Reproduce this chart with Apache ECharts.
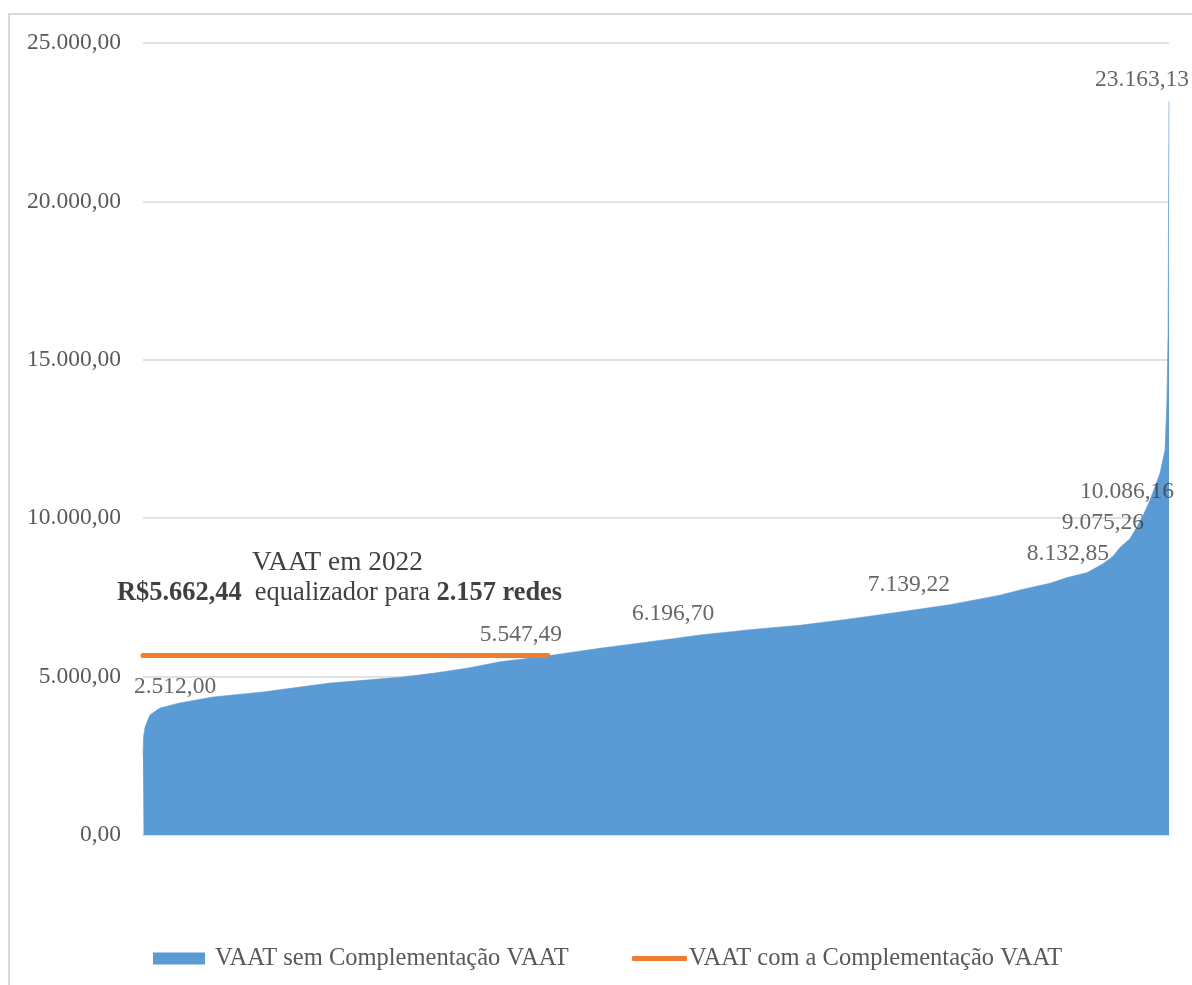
<!DOCTYPE html>
<html>
<head>
<meta charset="utf-8">
<script src="https://cdn.jsdelivr.net/npm/echarts@6/dist/echarts.min.js"></script>
<style>
  html, body { margin: 0; padding: 0; background: #fff; }
  #chart { width: 1192px; height: 985px; }
</style>
</head>
<body>
<div id="chart"></div>
<script>
// redes ordenadas pelo VAAT (posição no ranking)
const ranks = [1, 4, 12, 38, 92, 198, 374, 640, 997, 1370, 1545, 1726, 1904, 2014, 2158,
  2435, 2824, 2968, 3234, 3500, 3766, 4032, 4299, 4565, 4672, 4831, 4927, 5028, 5114,
  5167, 5204, 5257, 5295, 5327, 5364, 5417, 5444, 5454, 5460, 5465]
// VAAT sem complementação
const vaatSem = [2512.00, 3093, 3409, 3788, 4010, 4170, 4356, 4514, 4795, 4978, 5104, 5262, 5470, 5547.49, 5655,
  5893, 6196.70, 6313, 6480, 6620, 6820, 7040, 7270, 7570, 7734, 7945, 8132.85, 8280, 8560,
  8800, 9075.26, 9350, 9732, 10086.16, 10574, 11417, 12153, 13731, 15846, 23163.13]
// VAAT com a complementação (redes equalizadas)
const redesEqualizadas = 2157
const vaatCom = 5662.44
// pontos com rótulo
const labelRanks = [1, 2014, 2824, 4080, 4927, 5204, 5327, 5465]
const labelValues = [2512.00, 5547.49, 6196.70, 7139.22, 8132.85, 9075.26, 10086.16, 23163.13]
const labelShift = [[32, -69], [0, -24], [0, -25], [0, -24], [0, -24], [-17, -25], [-16, -24], [-27, -21]]

const nomeSem = 'VAAT sem Complementação VAAT'
const nomeCom = 'VAAT com a Complementação VAAT'
const FONT = '"Liberation Serif", "Times New Roman", serif'

function fmtBR(v) {
  const parts = v.toFixed(2).split('.')
  parts[0] = parts[0].replace(/\B(?=(\d{3})+(?!\d))/g, '.')
  return parts.join(',')
}

const chart = echarts.init(document.getElementById('chart'))
const option = {
  animation: false,
  textStyle: { fontFamily: FONT },
  grid: { left: 143, right: 23, top: 43, bottom: 150 },
  legend: [
    {
      data: [nomeSem],
      left: 148, top: 941,
      icon: 'rect',
      itemWidth: 52, itemHeight: 12, itemGap: 10,
      textStyle: { fontFamily: FONT, fontSize: 24.5, color: '#595959', padding: [0, 0, 0, 5] },
    },
    {
      data: [nomeCom],
      left: 627, top: 941,
      icon: 'roundRect',
      itemWidth: 55, itemHeight: 5,
      textStyle: { fontFamily: FONT, fontSize: 24.5, color: '#595959', padding: [0, 0, 0, -3] },
    },
  ],
  xAxis: {
    type: 'value',
    min: 1,
    max: ranks[ranks.length - 1],
    axisLine: { show: true, lineStyle: { color: '#d9d9d9', width: 1.5 } },
    axisTick: { show: false },
    axisLabel: { show: false },
    splitLine: { show: false },
  },
  yAxis: {
    type: 'value',
    min: 0,
    max: 25000,
    interval: 5000,
    axisLine: { show: false },
    axisTick: { show: false },
    axisLabel: {
      margin: 22,
      fontFamily: FONT,
      fontSize: 23.5,
      color: '#595959',
      formatter: (v) => fmtBR(v),
    },
    splitLine: { lineStyle: { color: '#d9d9d9', width: 1.5 } },
  },
  series: [
    {
      name: nomeSem,
      type: 'line',
      data: ranks.map((r, i) => [r, vaatSem[i]]),
      showSymbol: false,
      lineStyle: { width: 0.6, color: '#5B9BD5' },
      itemStyle: { color: '#5B9BD5' },
      areaStyle: { color: '#5B9BD5', opacity: 1 },
      z: 2,
    },
    {
      name: nomeCom,
      type: 'line',
      data: [[1, vaatCom], [redesEqualizadas, vaatCom]],
      showSymbol: false,
      lineStyle: { width: 5, color: '#ED7D31', cap: 'round' },
      itemStyle: { color: '#ED7D31' },
      z: 3,
    },
    {
      name: 'rotulos',
      type: 'scatter',
      symbolSize: 0,
      data: labelRanks.map((r, i) => ({
        value: [r, labelValues[i]],
        label: { offset: labelShift[i] },
      })),
      label: {
        show: true,
        position: 'inside',
        fontFamily: FONT,
        fontSize: 23.5,
        color: '#404040',
        formatter: (p) => fmtBR(p.value[1]),
      },
      silent: true,
      z: 4,
    },
  ],
  graphic: [
    {
      type: 'rect',
      shape: { x: 9, y: 14, width: 1200, height: 1000 },
      style: { fill: 'none', stroke: '#d9d9d9', lineWidth: 2 },
      silent: true,
    },
    {
      type: 'text',
      left: 252, top: 549,
      style: {
        text: 'VAAT em 2022',
        font: '27.3px ' + FONT,
        fill: '#404040',
      },
    },
    {
      type: 'text',
      left: 117, top: 580,
      style: {
        text: '{b|R$5.662,44}{n|  equalizador para }{b|2.157 redes}',
        rich: {
          b: { fontFamily: FONT, fontSize: 26.4, fontWeight: 'bold', fill: '#404040' },
          n: { fontFamily: FONT, fontSize: 26.4, fill: '#404040' },
        },
      },
    },
  ],
}
chart.setOption(option)
</script>
</body>
</html>
